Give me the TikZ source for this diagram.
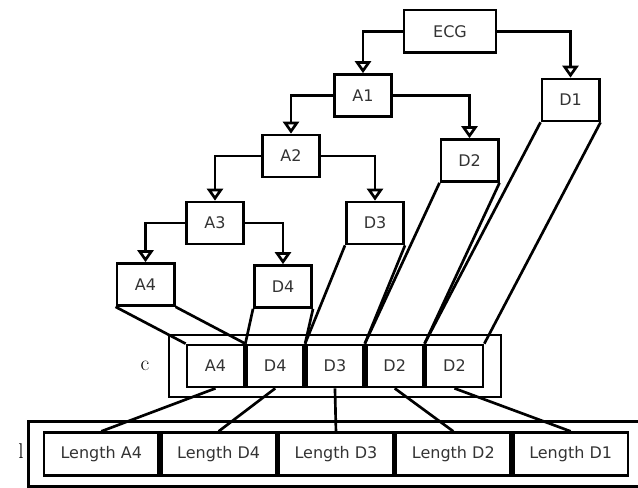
\documentclass[tikz,border=0pt]{standalone}
\usepackage{fontspec}
\setsansfont{DejaVu Sans}
\usetikzlibrary{positioning, arrows.meta, fit}

\begin{document}
\begin{tikzpicture}[
    x=0.75pt, y=-0.75pt,
    line width=2pt,
    box/.style={rectangle, draw, minimum width=43pt, minimum height=31.5pt, inner sep=0pt, font=\fontsize{12}{14}\sffamily, text=black!80},
    cell/.style={box, minimum width=42.8pt},
    lencell/.style={box, minimum width=86pt, minimum height=32pt},
    frame/.style={rectangle, draw, inner sep=0pt},
    lbl/.style={font=\fontsize{16}{18}\rmfamily},
    arrow/.style={-{Triangle[open, width=12pt, length=9pt]}}
]
    \useasboundingbox (0,0) rectangle (638,488);

    % wavelet tree
    \node[box, minimum width=69pt, minimum height=32pt] (ecg) at (450,31.5) {ECG};
    \node[box] (a1) at (363,95.5) {A1};
    \node[box] (d1) at (570.5,100) {D1};
    \node[box] (a2) at (291,156) {A2};
    \node[box] (d2) at (469.5,160.5) {D2};
    \node[box] (a3) at (215,223) {A3};
    \node[box] (d3) at (375,223) {D3};
    \node[box] (a4) at (145.5,284.5) {A4};
    \node[box] (d4) at (283,286.5) {D4};

    \draw[arrow] (ecg.west) -| (a1.north);
    \draw[arrow] (ecg.east) -| (d1.north);
    \draw[arrow] (a1.west) -| (a2.north);
    \draw[arrow] (a1.east) -| (d2.north);
    \draw[arrow] (a2.west) -| (a3.north);
    \draw[arrow] (a2.east) -| (d3.north);
    \draw[arrow] (a3.west) -| (a4.north);
    \draw[arrow] (a3.east) -| (d4.north);

    % array c
    \node[cell] (ca4) at (215.5,366) {A4};
    \node[cell, right=0pt of ca4] (cd4) {D4};
    \node[cell, right=0pt of cd4] (cd3) {D3};
    \node[cell, right=0pt of cd3] (cd2) {D2};
    \node[cell, right=0pt of cd2] (cd1) {D2};
    \node[frame, fit=(ca4)(cd1), inner xsep=12.5pt, inner ysep=6.5pt] (carr) {};
    \node[lbl] (clabel) at (145,366) {c};

    \draw (a4.south west) -- (ca4.north west);
    \draw (a4.south east) -- (ca4.north east);
    \draw (d4.south west) -- (cd4.north west);
    \draw (d4.south east) -- (cd4.north east);
    \draw (d3.south west) -- (cd3.north west);
    \draw (d3.south east) -- (cd3.north east);
    \draw (d2.south west) -- (cd2.north west);
    \draw (d2.south east) -- (cd2.north east);
    \draw (d1.south west) -- (cd1.north west);
    \draw (d1.south east) -- (cd1.north east);

    % array l
    \node[lencell] (la4) at (101.3,454) {Length A4};
    \node[lencell, right=0pt of la4] (ld4) {Length D4};
    \node[lencell, right=0pt of ld4] (ld3) {Length D3};
    \node[lencell, right=0pt of ld3] (ld2) {Length D2};
    \node[lencell, right=0pt of ld2] (ld1) {Length D1};
    \node[frame, fit=(la4)(ld1), inner xsep=10.5pt, inner ysep=7.5pt] (larr) {};
    \node[lbl] (llabel) at (21,451) {l};

    \draw (ca4.south) -- (la4.north);
    \draw (cd4.south) -- (ld4.north);
    \draw (cd3.south) -- (ld3.north);
    \draw (cd2.south) -- (ld2.north);
    \draw (cd1.south) -- (ld1.north);
\end{tikzpicture}
\end{document}
